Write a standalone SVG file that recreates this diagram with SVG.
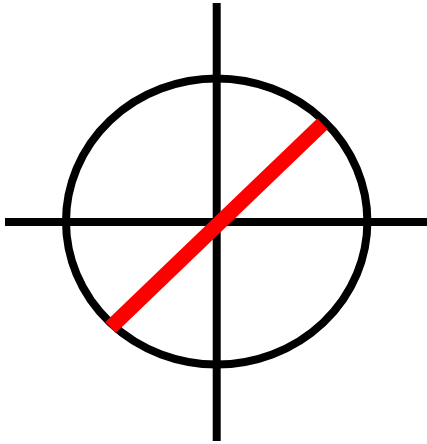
<svg xmlns="http://www.w3.org/2000/svg" width="427" height="444" viewBox="0 0 427 444">
<style>.k{stroke:#000;stroke-width:8;fill:none}</style>
<rect width="427" height="444" fill="#fff"/>
<g id="ellipse"><ellipse class="k" cx="216.7" cy="221.5" rx="150.7" ry="143"/></g>
<g id="axes"><line class="k" x1="216.7" y1="3" x2="216.7" y2="441"/><line class="k" x1="5" y1="222" x2="427" y2="222"/></g>
<g id="diag"><line x1="110.5" y1="327.5" x2="322.5" y2="123.8" stroke="#f00" stroke-width="15"/></g>
</svg>
